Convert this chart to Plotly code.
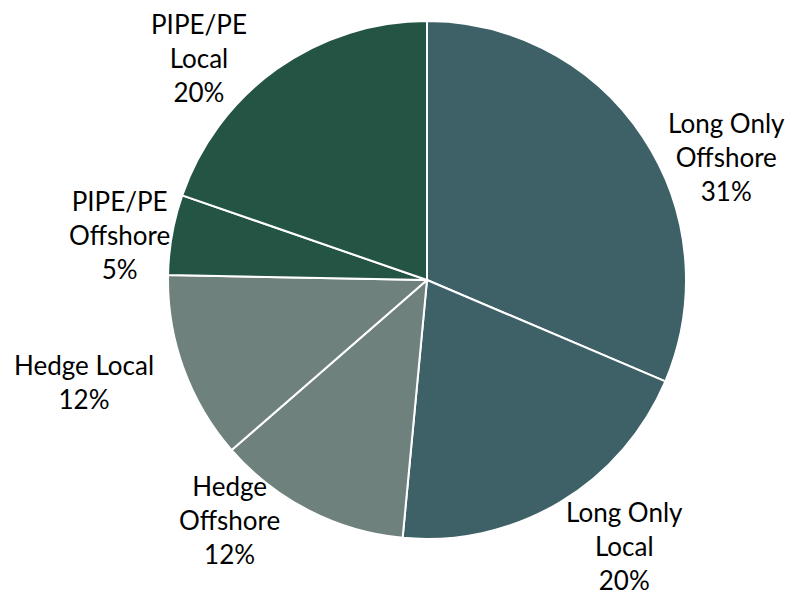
import math
import plotly.graph_objects as go

labels = ["Long Only<br>Offshore", "Long Only<br>Local", "Hedge<br>Offshore",
          "Hedge Local", "PIPE/PE<br>Offshore", "PIPE/PE<br>Local"]
values = [31.4, 20.1, 12.1, 11.7, 5.0, 19.7]
colors = ["#3d6166", "#3d6166", "#6e817d", "#6e817d", "#245444", "#245444"]

# page body adds an 8px margin, so the figure is 8px smaller and shifted
W, H = 790, 587
cx, cy, r = 419, 272, 259

# label placement tweaks (angle offset in degrees, radial factor)
label_nudge = [(11.2, 1.25), (-5.8, 1.28), (12.2, 1.20), (3.4, 1.38), (-1.8, 1.20), (-10.3, 1.23)]

fig = go.Figure(go.Pie(
    labels=labels,
    values=values,
    sort=False,
    direction="clockwise",
    rotation=0,
    marker=dict(colors=colors, line=dict(color="white", width=2)),
    textinfo="none",
    hoverinfo="label+percent",
    domain=dict(x=[(cx - r) / W, (cx + r) / W], y=[(H - cy - r) / H, (H - cy + r) / H]),
    showlegend=False,
))

total = sum(values)
cum = 0
for lab, v, (da, f) in zip(labels, values, label_nudge):
    mid = (cum + v / 2) / total * 360
    cum += v
    a = math.radians(mid + da)
    px = cx + f * r * math.sin(a)
    py = cy - f * r * math.cos(a)
    fig.add_annotation(
        x=px / W, y=1 - py / H, xref="paper", yref="paper",
        text=f"{lab}<br>{round(v / total * 100)}%",
        showarrow=False, xanchor="center", yanchor="middle", align="center",
        font=dict(family="Lato, sans-serif", size=26, color="black"),
    )

fig.update_layout(
    width=W, height=H,
    margin=dict(l=0, r=0, t=0, b=0),
    paper_bgcolor="white",
    plot_bgcolor="white",
)
fig.write_html("out.html")
